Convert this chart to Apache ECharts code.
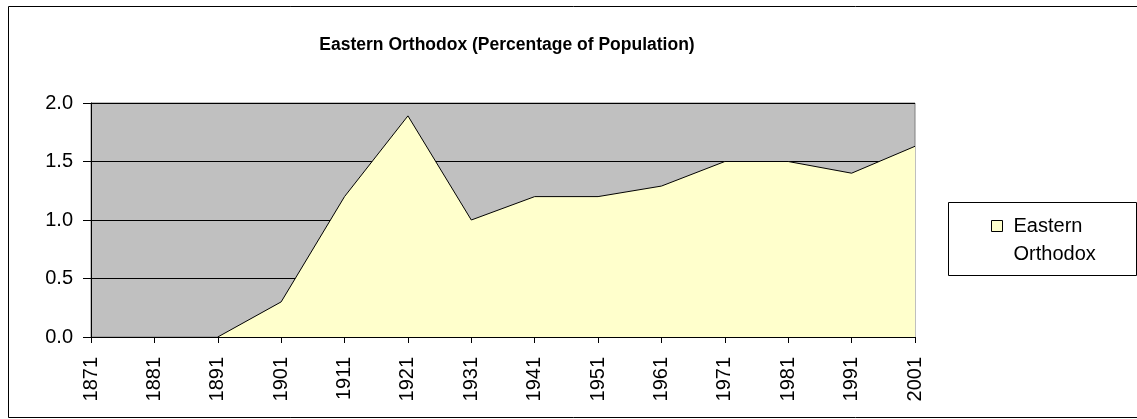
<!DOCTYPE html>
<html>
<head>
<meta charset="utf-8">
<script src="https://cdn.jsdelivr.net/npm/echarts@6/dist/echarts.min.js"></script>
<style>
  html, body { margin: 0; padding: 0; background: #fff; }
  #chart { width: 1137px; height: 419px; }
</style>
</head>
<body>
<div id="chart"></div>
<script>
const years = ['1871', '1881', '1891', '1901', '1911', '1921', '1931', '1941', '1951', '1961', '1971', '1981', '1991', '2001']
// no data before 1891
const orthodox = [null, null, 0, 0.3, 1.2, 1.89, 1.0, 1.2, 1.2, 1.29, 1.5, 1.5, 1.4, 1.63]
const yTicks = { min: 0, max: 2, interval: 0.5 }

const chart = echarts.init(document.getElementById('chart'))
const font = 'Arial, "Liberation Sans", sans-serif'

const option = {
    animation: false,
    title: {
        text: 'Eastern Orthodox (Percentage of Population)',
        left: 502,
        top: 31,
        textAlign: 'center',
        textStyle: { fontFamily: font, fontSize: 17.5, fontWeight: 'bold', color: '#000' }
    },
    grid: {
        left: 91,
        right: 222,
        top: 103,
        bottom: 82,
        show: true,
        backgroundColor: '#c0c0c0',
        borderColor: '#808080',
        borderWidth: 1
    },
    legend: {
        left: 991,
        top: 184,
        padding: 0,
        icon: 'rect',
        itemWidth: 11,
        itemHeight: 11,
        itemGap: 0,
        // leading blank line keeps the icon level with the first line
        formatter: function () { return ' \nEastern\nOrthodox' },
        textStyle: {
            fontFamily: font,
            fontSize: 20,
            lineHeight: 28,
            color: '#000',
            padding: [0, 0, 0, 6]
        },
        data: [{ name: 'Eastern Orthodox', itemStyle: { color: '#ffffcc', borderColor: '#000', borderWidth: 1 } }]
    },
    xAxis: {
        type: 'category',
        data: years,
        boundaryGap: false,
        axisLine: { lineStyle: { color: '#000', width: 1 } },
        axisTick: { show: true, length: 6, lineStyle: { color: '#000' }, alignWithLabel: true },
        axisLabel: {
            rotate: 90,
            margin: 20,
            interval: 0,
            fontFamily: font,
            fontSize: 20,
            color: '#000'
        },
        splitLine: { show: false }
    },
    yAxis: {
        type: 'value',
        min: yTicks.min,
        max: yTicks.max,
        interval: yTicks.interval,
        axisLine: { show: true, lineStyle: { color: '#000', width: 1 } },
        axisTick: { show: true, length: 8, lineStyle: { color: '#000' } },
        axisLabel: {
            margin: 18,
            fontFamily: font,
            fontSize: 20,
            color: '#000',
            formatter: function (v) { return v.toFixed(1) }
        },
        splitLine: { show: true, lineStyle: { color: '#000', width: 1 } }
    },
    series: [
        {
            name: 'Eastern Orthodox',
            type: 'line',
            data: orthodox,
            symbol: 'none',
            lineStyle: { color: '#000', width: 1 },
            itemStyle: { color: '#ffffcc' },
            areaStyle: { color: '#ffffcc', opacity: 1 },
            z: 3
        }
    ],
    graphic: {
        elements: [
            {
                type: 'rect',
                shape: { x: 8.5, y: 6.5, width: 1140, height: 411 },
                style: { fill: 'none', stroke: '#000', lineWidth: 1 },
                silent: true
            },
            {
                type: 'rect',
                shape: { x: 948.5, y: 202.5, width: 188, height: 73 },
                style: { fill: '#fff', stroke: '#000', lineWidth: 1 },
                z: -1,
                silent: true
            }
        ]
    }
}

chart.setOption(option)
</script>
</body>
</html>
